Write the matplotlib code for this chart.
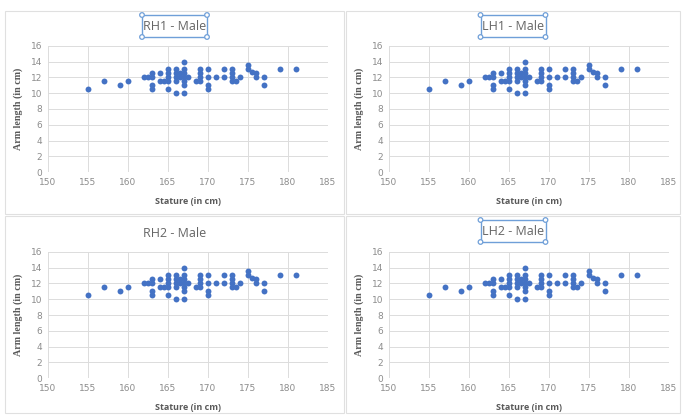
import matplotlib
matplotlib.use("Agg")
import matplotlib.pyplot as plt
from matplotlib.patches import Rectangle, Circle

# ---- data (same measurements shown in all four panels) ----
stature = [155, 157, 159, 160, 162, 162.5, 163, 163, 163, 163,
           164, 164, 164.5, 165, 165, 165, 165, 165,
           166, 166, 166, 166, 166, 166.5, 166.5,
           167, 167, 167, 167, 167, 167, 167, 167.5,
           168.5, 169, 169, 169, 169,
           170, 170, 170, 170, 171, 172, 172,
           173, 173, 173, 173, 173.5, 174,
           175, 175, 175.5, 176, 176, 177, 177, 179, 181]
arm_length = [10.5, 11.5, 11.0, 11.5, 12, 12, 12.5, 12, 11, 10.5,
              12.5, 11.5, 11.5, 11.5, 13, 12.5, 12, 10.5,
              13, 12.5, 12, 11.5, 10, 12.5, 12,
              14, 13, 12.5, 12, 11.5, 11, 10, 12,
              11.5, 13, 12.5, 12, 11.5,
              13, 12, 11, 10.5, 12, 13, 12,
              13, 12.5, 12, 11.5, 11.5, 12,
              13.5, 13, 12.7, 12.5, 12, 12, 11, 13, 13]

titles = ["RH1 - Male", "LH1 - Male", "RH2 - Male", "LH2 - Male"]
selected = [True, True, False, True]
x_ticks = [150, 155, 160, 165, 170, 175, 180, 185]
y_ticks = [0, 2, 4, 6, 8, 10, 12, 14, 16]
x_label = "Stature (in cm)"
y_label = "Arm length (in cm)"

W, H = 683, 415
fig = plt.figure(figsize=(W / 100, H / 100), dpi=100)
fig.patch.set_facecolor("white")

def fx(px):
    return px / W

def fy(py):
    return 1 - py / H

# panel frames (pixel coords: left, top, right, bottom)
panels = [(5, 11, 344, 214), (346, 11, 680, 214),
          (5, 216, 344, 413), (346, 216, 680, 413)]
# plot areas (left, top, right, bottom)
plots = [(47.7, 45.7, 327.7, 172.3), (389, 45.7, 669, 172.3),
         (47.7, 251.7, 327.7, 378.3), (389, 251.7, 669, 378.3)]
title_y = [26, 26, 233, 231]

for i in range(4):
    l, t, r, b = panels[i]
    fig.patches.append(Rectangle((fx(l), fy(b)), fx(r) - fx(l), fy(t) - fy(b),
                                 transform=fig.transFigure, fill=False,
                                 edgecolor="#e0e0e0", lw=0.8))
    pl, pt, pr, pb = plots[i]
    ax = fig.add_axes([fx(pl), fy(pb), fx(pr) - fx(pl), fy(pt) - fy(pb)])
    ax.scatter(stature, arm_length, s=18, color="#4472C4", zorder=3,
               linewidths=0, clip_on=False)
    ax.set_xlim(150, 185)
    ax.set_ylim(0, 16)
    ax.set_xticks(x_ticks)
    ax.set_yticks(y_ticks)
    ax.grid(True, color="#dcdcdc", lw=0.7)
    ax.set_axisbelow(True)
    for s in ax.spines.values():
        s.set_visible(False)
    ax.tick_params(length=0, labelsize=6.5, labelcolor="#8c8c8c", pad=4)
    ax.set_xlabel(x_label, fontsize=6.5, fontweight="bold", color="#595959",
                  family="Open Sans")
    ax.xaxis.set_label_coords(0.5, -0.195)
    ax.set_ylabel(y_label, fontsize=7.2, fontweight="bold", color="#595959",
                  family="Liberation Serif")
    ax.yaxis.set_label_coords(-0.088, 0.5)
    ax.set_facecolor("white")

    cx = (l + r) / 2
    fig.text(fx(cx), fy(title_y[i]), titles[i], ha="center", va="center",
             fontsize=9, color="#656565", family="Open Sans")
    if selected[i]:
        bl, br = cx - 32.5, cx + 32.5
        bt, bb = title_y[i] - 11, title_y[i] + 11
        fig.patches.append(Rectangle((fx(bl), fy(bb)), fx(br) - fx(bl),
                                     fy(bt) - fy(bb), transform=fig.transFigure,
                                     fill=False, edgecolor="#6f9fd8", lw=1.0))
        for (hx, hy) in [(bl, bt), (br, bt), (bl, bb), (br, bb)]:
            fig.patches.append(Circle((hx, H - hy), 2.3,
                                      transform=None, facecolor="white",
                                      edgecolor="#6f9fd8", lw=0.9, zorder=5))

fig.savefig("out.png", dpi=100, facecolor="white")
